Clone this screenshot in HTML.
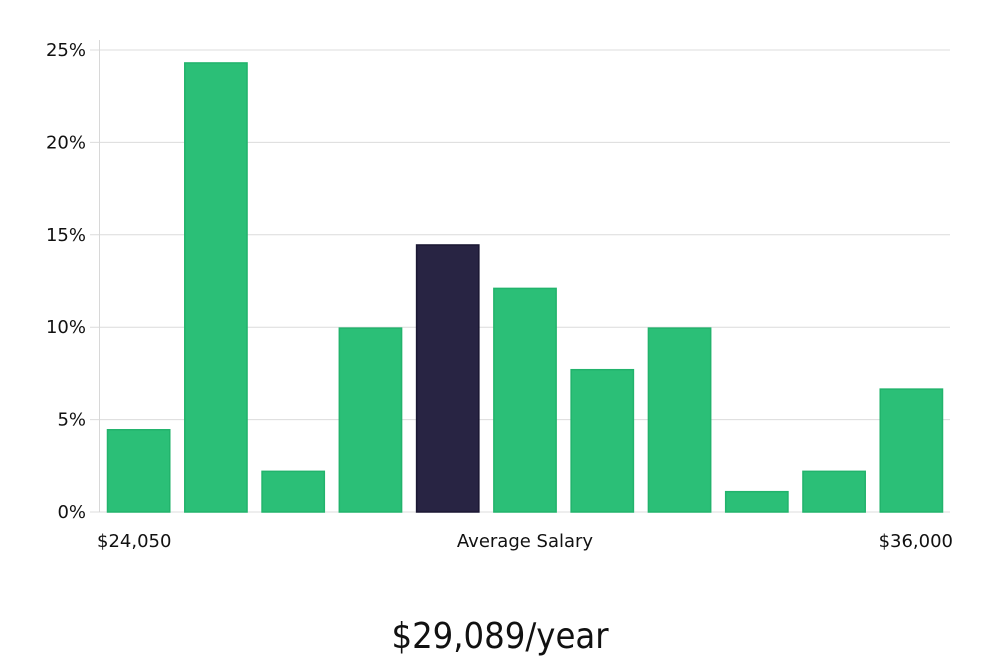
<!DOCTYPE html>
<html><head><meta charset="utf-8"><style>
html,body{margin:0;padding:0;background:#fff;width:1000px;height:660px;overflow:hidden}
svg text{font-family:"DejaVu Sans","Liberation Sans",sans-serif;fill:#111}
</style></head><body>
<svg id="chart" width="1000" height="660" xmlns="http://www.w3.org/2000/svg"></svg>
<script>
const categories=["b1","b2","b3","b4","b5","b6","b7","b8","b9","b10","b11"];
const values=[4.45,24.3,2.2,9.95,14.45,12.1,7.7,9.95,1.1,2.2,6.65];
const highlight=[false,false,false,false,true,false,false,false,false,false,false];
const yTicks=[0,5,10,15,20,25];
const yTickLabels=["0%","5%","10%","15%","20%","25%"];
const xLabels=["$24,050","Average Salary","$36,000"];
const NS="http://www.w3.org/2000/svg";
const svg=document.getElementById('chart');
const x0=100,x1=950,y0=512,y1=50,yMax=25;
const y=v=>y0-(v/yMax)*(y0-y1);
const slot=(x1-x0)/categories.length;
const xb=i=>x0+i*slot;
function mk(t,a){const e=document.createElementNS(NS,t);for(const k in a)e.setAttribute(k,a[k]);svg.appendChild(e);return e;}
yTicks.forEach((t,i)=>{
 const g=mk('line',{x1:90,x2:x1,y1:y(t),y2:y(t),stroke:'#dcdcdc','stroke-width':1});
 
 
 const l=mk('text',{x:86,y:y(t)+6,'text-anchor':'end','font-size':18});
 l.textContent=yTickLabels[i];
 
 
});
const ax=mk('line',{x1:99.5,x2:99.5,y1:40,y2:y0,stroke:'#d8d8d8','stroke-width':1});


values.forEach((v,i)=>{
 const r=mk('rect',{x:xb(i)+7.5,y:y(v),width:slot-15,height:y0-y(v),fill:highlight[i]?'#282443':'#2bbf77',stroke:highlight[i]?'#1a1733':'#22b36c','stroke-width':1.5});
 
 
});
[[97,'start'],[525,'middle'],[953,'end']].forEach((p,i)=>{
 const t=mk('text',{x:p[0],y:547,'text-anchor':p[1],'font-size':18});
 t.textContent=xLabels[i];
 
 
});
const tt=mk('text',{x:500,y:648,'text-anchor':'middle','font-size':36,'font-weight':300});
tt.setAttribute('style','font-family:"DejaVu Sans Condensed","Liberation Sans Narrow","DejaVu Sans",sans-serif;font-weight:300');
tt.textContent="$29,089/year";


</script>
</body></html>
